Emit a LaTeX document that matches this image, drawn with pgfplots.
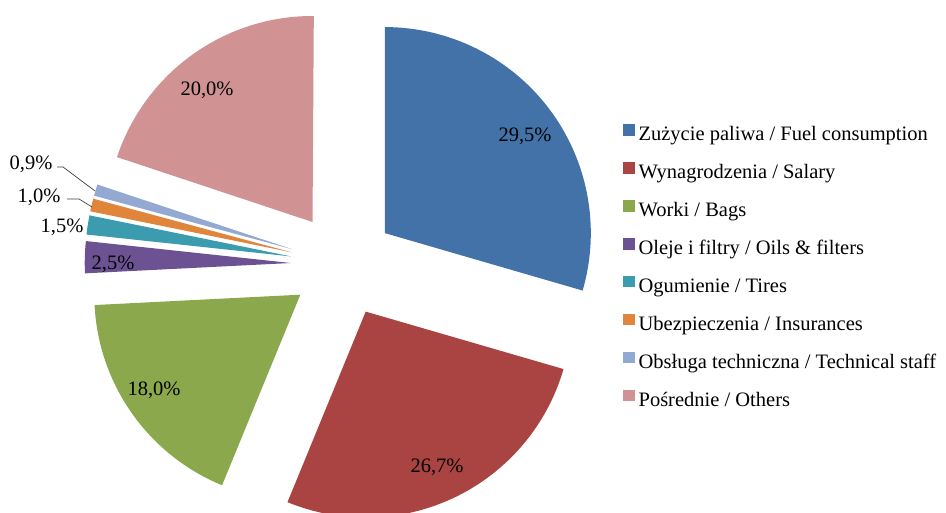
\documentclass[border=0pt]{standalone}
\usepackage{pgfplots}
\usepackage{pgfplotstable}
\usepackage{etoolbox}
\pgfplotsset{compat=1.18}
\usepackage{fontspec}
\setmainfont{Liberation Serif}
\definecolor{c1}{HTML}{4372A9}
\definecolor{c2}{HTML}{A94442}
\definecolor{c3}{HTML}{8BA84C}
\definecolor{c4}{HTML}{6D5293}
\definecolor{c5}{HTML}{3B9CB0}
\definecolor{c6}{HTML}{E0853A}
\definecolor{c7}{HTML}{93A9D2}
\definecolor{c8}{HTML}{D09293}
% value, label position (x px from left, y px from top)
\pgfplotstableread{
value lx ly
29.5 525 134
26.7 437 465
18.0 154 388
2.5 113 262
1.5 62 225
1.0 39 195
0.9 31 162
20.0 207 88
}\piedata
\def\cx{343}\def\cy{248.5}\def\ex{52.3}\def\rad{206}
\begin{document}%
\begin{tikzpicture}[font=\fontsize{20.5}{24}\selectfont]
\pgfplotstablegetrowsof{\piedata}
\pgfmathtruncatemacro\nrows{\pgfplotsretval-1}
\def\cum{0}
\def\slicecmds{}
\pgfplotsforeachungrouped \i in {0,...,\nrows}{%
  \pgfplotstablegetelem{\i}{value}\of\piedata \let\v\pgfplotsretval
  \pgfplotstablegetelem{\i}{lx}\of\piedata \let\lx\pgfplotsretval
  \pgfplotstablegetelem{\i}{ly}\of\piedata \let\ly\pgfplotsretval
  \pgfmathsetmacro\sa{90-3.6*\cum}%
  \pgfmathsetmacro\newcum{\cum+\v}%
  \pgfmathsetmacro\ea{90-3.6*\newcum}%
  \pgfmathsetmacro\ma{(\sa+\ea)/2}%
  \pgfmathsetmacro\vx{\cx+\ex*cos(\ma)}%
  \pgfmathsetmacro\vy{\cy+\ex*sin(\ma)}%
  \pgfmathsetmacro\lyy{513-\ly-2.5}%
  \pgfmathtruncatemacro\ci{\i+1}%
  \eappto\slicecmds{%
    \noexpand\fill[c\ci] (axis cs:\vx,\vy) -- ++(\sa:\rad pt) arc[start angle=\sa, end angle=\ea, radius=\rad pt] -- cycle;
    \noexpand\node[inner sep=0pt] at (axis cs:\lx,\lyy) {\noexpand\pgfmathprintnumber[fixed, fixed zerofill, precision=1, use comma, assume math mode=true]{\v}\noexpand\%};
  }%
  \let\cum\newcum
}%
\useasboundingbox (0,0) rectangle (946pt,513pt);
\clip (0,0) rectangle (946pt,513pt);
\begin{axis}[
  at={(0,0)}, anchor=south west,
  scale only axis, width=946pt, height=513pt,
  xmin=0, xmax=946, ymin=0, ymax=513,
  hide axis, clip=false,
  legend style={at={(axis cs:623,389)}, anchor=north west, draw=none, fill=none,
    inner sep=0pt, row sep=17pt, column sep=4pt,
    font=\fontsize{20.5}{24}\selectfont,
    nodes={inner sep=0pt, text height=14pt, text depth=4.5pt}},
  legend cell align=left,
]
\slicecmds
\draw[black!75, line width=0.7pt] (axis cs:57,346) -- (axis cs:63,346) -- (axis cs:95,322);
\draw[black!75, line width=0.7pt] (axis cs:67,314) -- (axis cs:79,314) -- (axis cs:92,306);
\addlegendimage{legend image code/.code={\fill[c1] (0pt,1pt) rectangle (11pt,11.5pt);}}
\addlegendentry{Zużycie paliwa / Fuel consumption}
\addlegendimage{legend image code/.code={\fill[c2] (0pt,1pt) rectangle (11pt,11.5pt);}}
\addlegendentry{Wynagrodzenia / Salary}
\addlegendimage{legend image code/.code={\fill[c3] (0pt,1pt) rectangle (11pt,11.5pt);}}
\addlegendentry{Worki / Bags}
\addlegendimage{legend image code/.code={\fill[c4] (0pt,1pt) rectangle (11pt,11.5pt);}}
\addlegendentry{Oleje i filtry / Oils \& filters}
\addlegendimage{legend image code/.code={\fill[c5] (0pt,1pt) rectangle (11pt,11.5pt);}}
\addlegendentry{Ogumienie / Tires}
\addlegendimage{legend image code/.code={\fill[c6] (0pt,1pt) rectangle (11pt,11.5pt);}}
\addlegendentry{Ubezpieczenia / Insurances}
\addlegendimage{legend image code/.code={\fill[c7] (0pt,1pt) rectangle (11pt,11.5pt);}}
\addlegendentry{Obsługa techniczna / Technical staff}
\addlegendimage{legend image code/.code={\fill[c8] (0pt,1pt) rectangle (11pt,11.5pt);}}
\addlegendentry{Pośrednie / Others}
\end{axis}
\end{tikzpicture}%
\end{document}
